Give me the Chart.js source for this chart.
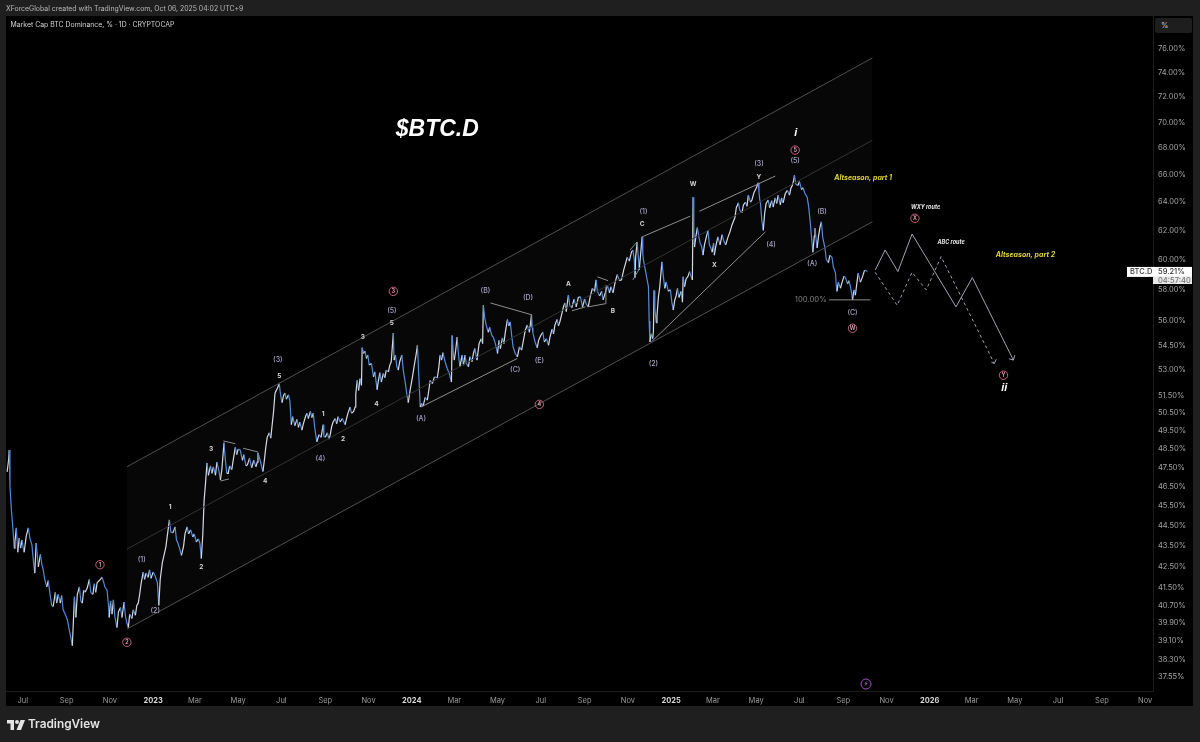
<!DOCTYPE html>
<html>
<head>
<meta charset="utf-8">
<title>BTC.D</title>
<script src="https://cdn.jsdelivr.net/npm/chart.js@4"></script>
<style>
  html, body { margin: 0; padding: 0; background: #1f1f1f; }
  #wrap { position: relative; width: 1200px; height: 742px; overflow: hidden; font-family: Inter, sans-serif; }
  canvas { position: absolute; left: 0; top: 0; }
  .txt { position: absolute; white-space: nowrap; }
  #created { left: 6px; top: 4px; font-size: 6.9px; color: #b9b9b9; }
  #symbol { left: 10.5px; top: 20px; font-size: 6.9px; color: #d2d2d2; }
  #unit { left: 1155px; top: 18px; width: 37px; height: 15px; line-height: 15px; box-sizing: border-box; padding-left: 6px; background: #1e1e1e; border-radius: 2px; font-size: 7.5px; color: #c8c8c8; }
  #brand { left: 28px; top: 717px; font-size: 11.8px; font-weight: 600; color: #e4e4e4; }
  #logo { position: absolute; left: 7px; top: 720px; }
</style>
</head>
<body>
<div id="wrap">
  <canvas id="chart" width="1200" height="742"></canvas>
  <div class="txt" id="created">XForceGlobal created with TradingView.com, Oct 06, 2025 04:02 UTC+9</div>
  <div class="txt" id="symbol">Market Cap BTC Dominance, % · 1D · CRYPTOCAP</div>
  <div class="txt" id="unit">%</div>
  <svg id="logo" width="18" height="10" viewBox="0 0 36 20"><path fill="#e4e4e4" d="M0 0h14v20H7V7H0z"/><circle fill="#e4e4e4" cx="20" cy="4" r="4"/><path fill="#e4e4e4" d="M27 0h9l-8 20h-9z"/></svg>
  <div class="txt" id="brand">TradingView</div>
</div>
<script>
// days are counted from 2023-01-01
const priceDays = [
  -206,-204,-203,-202,-200,-198,-196,-195,-193,-191,-189,-187,
  -185,-183,-182,-179,-176,-174,-171,-169,-167,-165,-163,-162,
  -159,-157,-155,-153,-150,-148,-145,-143,-141,-138,-136,-134,
  -131,-129,-127,-124,-121,-119,-117,-114,-111,-109,-107,-104,
  -102,-100,-98,-96,-93,-90,-88,-85,-83,-81,-79,-76,
  -72,-70,-68,-65,-63,-62,-60,-58,-56,-54,-51,-49,
  -46,-44,-41,-39,-37,-35,-33,-30,-28,-25,-23,-21,
  -19,-17,-14,-12,-10,-7,-5,-3,0,3,6,8,
  10,13,15,18,20,23,25,28,31,33,35,38,
  40,43,45,48,50,53,56,58,61,64,66,68,
  70,72,74,76,78,81,83,85,88,90,93,95,
  97,100,102,104,106,108,111,113,116,118,120,123,
  126,128,131,133,136,139,142,145,147,148,151,155,
  157,159,161,164,166,168,170,172,175,178,180,182,
  184,186,188,191,193,195,197,200,203,205,207,210,
  212,215,217,219,222,224,226,228,231,234,237,240,
  241,243,246,248,250,252,254,257,259,261,264,267,
  271,273,275,278,280,283,285,286,288,290,292,294,
  295,297,299,301,303,305,308,311,313,316,318,320,
  322,325,327,329,332,334,336,339,340,342,344,346,
  348,351,353,356,358,360,363,366,369,371,373,375,
  377,379,381,384,387,389,391,394,397,401,403,405,
  407,409,412,415,418,421,422,424,425,427,429,431,
  433,436,438,440,442,445,447,450,452,454,457,460,
  463,465,466,468,470,473,475,478,480,483,486,488,
  490,493,495,497,500,502,504,506,508,511,514,517,
  520,523,525,528,531,534,535,536,539,542,544,547,
  550,552,555,558,560,563,565,567,570,572,574,577,
  579,581,583,586,588,591,594,597,600,603,606,609,
  611,614,617,620,623,625,627,630,633,635,638,641,
  644,646,649,652,655,658,661,664,667,669,672,675,
  677,679,680,681,683,685,686,688,690,691,692,695,
  697,699,700,701,703,705,706,707,708,710,711,713,
  715,718,720,722,724,727,730,732,734,736,738,740,
  742,745,747,748,750,752,755,757,759,761,762,763,
  764,766,768,770,772,774,776,778,781,783,785,787,
  789,791,792,794,797,800,803,805,808,811,814,817,
  821,823,826,828,831,833,836,838,840,843,845,848,
  851,854,855,856,857,859,861,863,865,868,870,873,
  875,878,880,882,885,887,889,892,895,898,900,902,
  904,905,907,910,912,915,917,920,923,925,927,929,
  931,933,934,936,937,939,941,943,945,948,950,953,
  955,958,960,963,964,965,967,970,972,975,977,980,
  982,984,986,987,989,991,993,995,998,1001,1004,1008
];
const priceVals = [
  47.28,47.9,48.45,46.5,45.3,44.45,43.4,43.7,44.4,43.2,43.9,43.4,
  43.8,43.35,43.2,44.0,44.4,43.9,43.55,42.8,42.2,43.65,42.9,42.5,
  43.1,42.6,42.35,41.9,41.55,41.85,41.1,40.7,40.65,41.3,40.8,41.2,
  40.8,41.15,40.5,40.3,40.05,39.7,39.4,38.9,41.1,40.15,41.2,41.55,
  40.9,40.8,41.4,41.3,41.5,41.9,41.3,41.2,41.7,41.3,41.75,41.85,
  42.0,41.8,41.55,41.4,40.7,40.15,40.9,40.3,40.95,40.2,39.7,40.4,
  40.6,40.15,40.85,40.2,39.9,39.7,40.3,40.1,40.5,40.25,40.7,40.8,
  41.2,41.7,42.25,41.9,42.2,42.0,42.35,41.95,42.25,42.05,41.75,40.7,
  41.9,42.7,43.0,43.45,44.0,44.8,44.2,44.15,44.45,43.8,43.65,43.3,
  43.05,43.5,44.1,44.45,44.1,44.3,43.95,44.1,43.7,43.85,43.65,42.9,
  44.0,45.8,46.7,47.75,47.1,47.6,47.2,47.55,47.1,47.8,47.3,46.85,
  47.4,48.85,47.9,47.2,47.2,47.6,47.4,47.9,48.6,48.2,48.5,48.45,
  47.9,48.2,47.6,47.65,48.0,47.5,47.9,47.55,47.8,48.3,47.9,47.3,
  47.9,48.6,49.15,49.4,49.1,49.85,50.6,51.65,51.9,52.2,51.5,51.1,
  51.5,51.65,51.3,51.55,51.2,49.85,50.3,49.8,50.15,49.7,50.0,49.55,
  49.9,50.3,50.5,50.2,50.6,50.25,50.5,49.7,48.9,49.3,49.15,49.85,
  49.2,49.15,49.4,49.05,49.3,49.75,50.0,50.2,49.9,50.3,50.0,50.2,
  49.85,50.2,50.5,50.85,50.5,50.6,50.85,51.6,52.4,51.8,52.5,52.1,
  54.35,54.0,54.15,53.7,53.9,53.3,53.4,52.6,52.9,51.85,52.4,52.85,
  52.3,52.8,52.55,53.0,52.9,53.3,53.5,55.25,53.6,53.9,53.2,53.0,
  53.5,53.9,53.0,52.2,51.6,51.1,51.9,52.6,53.4,53.9,54.5,52.6,
  50.85,51.05,50.9,51.4,51.25,51.8,52.4,52.2,52.6,52.55,53.1,53.9,
  53.6,54.05,53.5,53.1,52.8,52.3,55.1,53.8,53.6,54.2,55.0,53.9,
  53.2,53.9,53.3,53.9,53.4,53.2,53.8,53.5,54.0,54.3,53.6,54.6,
  54.9,54.6,57.0,56.2,55.75,55.3,55.6,55.1,55.0,54.6,54.0,54.8,
  54.3,54.95,54.6,55.3,56.1,55.7,55.95,55.1,54.4,54.0,53.8,54.4,
  54.2,54.9,55.4,55.75,55.3,56.4,55.6,55.25,54.7,54.35,54.8,55.1,
  55.3,54.7,54.9,54.5,55.0,55.5,55.2,55.75,56.1,55.7,55.95,56.5,
  56.9,57.15,56.6,57.65,57.0,56.85,57.4,56.9,57.5,57.55,56.9,57.4,
  57.1,56.9,57.6,58.1,57.9,58.65,57.9,57.6,57.9,57.35,57.8,58.3,
  57.8,58.2,57.8,58.5,59.0,58.6,58.65,59.3,59.8,60.15,59.9,60.5,
  60.65,60.0,58.8,60.2,61.2,60.0,59.3,60.4,61.55,60.4,59.95,59.2,
  58.7,58.2,56.0,54.7,55.2,54.9,55.35,57.95,56.8,55.9,56.3,57.5,
  58.2,59.85,58.9,58.1,58.5,57.9,58.0,57.2,56.7,57.3,57.6,58.1,
  57.5,57.9,57.2,58.85,58.2,58.7,58.9,59.2,58.9,58.65,64.35,62.0,
  60.85,61.6,62.2,61.6,61.1,60.9,60.3,61.0,61.6,62.0,61.0,60.8,
  60.5,61.1,60.3,60.9,61.55,61.0,61.7,61.3,61.0,61.5,61.9,62.4,
  62.9,63.6,63.95,63.4,63.25,63.8,64.0,63.7,64.5,64.0,64.15,64.7,
  65.0,65.4,64.7,64.2,63.95,62.7,62.0,63.2,63.9,64.15,63.6,64.1,
  63.65,64.3,63.9,64.5,63.8,64.3,63.95,64.6,64.85,64.5,65.0,65.2,
  65.6,65.95,65.3,65.2,65.5,64.9,65.05,64.6,64.35,63.7,62.75,61.6,
  60.5,61.6,62.15,61.2,60.8,61.6,62.2,62.6,61.5,60.8,60.0,59.8,
  60.3,60.15,59.5,59.1,58.3,57.9,58.5,58.1,58.45,58.9,58.8,58.4,
  58.6,58.2,57.7,57.35,58.0,57.65,58.4,59.1,58.5,58.85,59.3,59.21
];

// channel rails: start day, end day, value at each end
const channelDays = [-37, 1015];
const channelUpper = [47.55, 75.24];
const channelMid = [43.35, 68.6];
const channelLower = [39.63, 62.6];

// hand drawn trend lines [day, value, day, value]
const trendLines = [
  [99,48.95,116,48.8],[127,48.55,148,48.35],[95,46.8,107,46.9],
  [378,50.85,514,53.7],[476,57.15,534,56.4],[534,56.4,534,55.6],
  [591,56.65,610,56.9],[614,56.9,638,57.1],[638,57.1,639,58.3],[627,58.85,642,58.6],
  [690,61.55,758,63.0],[673,60.65,683,61.2],[677,58.65,687,59.45],
  [771,63.35,878,65.9],[703,54.7,864,61.9],[954,57.35,1012,57.35]
];

// projected routes
const wxyDays = [1019,1033,1051,1071,1133,1156,1214];
const wxyVals = [59.3,60.65,59.2,61.75,56.9,58.8,53.6];
const abcDays = [1019,1050,1071,1091,1112,1187];
const abcVals = [59.15,57.0,59.15,58.0,60.2,53.4];
const wxyHeadDays = [1208,1214,1216];
const wxyHeadVals = [53.68,53.6,53.9];
const abcHeadDays = [1183,1187,1190];
const abcHeadVals = [53.47,53.4,53.65];

// wave labels [text, day, value]
const circleLabels = [['1',-75,42.6],['2',-37,39.05],['3',339,57.9],['4',545,51.0],['5',906,67.85],['W',987,55.55],['X',1075,62.85],['Y',1200,52.7]];
const parenLabels = [['(1)',-16,42.83],['(2)',3,40.45],['(3)',176,53.6],['(4)',236,48.0],['(5)',337,56.65],['(A)',378,50.2],['(B)',469,57.9],['(C)',511,53.0],['(D)',529,57.45],['(E)',545,53.55],['(1)',692,63.3],['(2)',706,53.4],['(3)',855,66.8],['(4)',872,61.0],['(5)',906,67.0],['(A)',930,59.7],['(B)',944,63.3],['(C)',987,56.5]];
const plainLabels = [['1',24,45.45],['2',68,42.5],['3',82,48.5],['4',158,46.8],['5',178,52.65],['1',240,50.45],['2',268,49.05],['3',296,55.0],['4',315,51.0],['5',337,55.9],['A',586,58.35],['B',649,56.65],['C',690,62.45],['W',762,65.3],['X',792,59.65],['Y',855,65.8]];
const noteLabels = [
  ['$BTC.D',401,69.4,'italic 700 23px "Liberation Sans"','#ffffff'],
  ['i',907,69.16,'italic 700 11px "Liberation Sans"','#ffffff'],
  ['ii',1201,51.95,'italic 700 11px "Liberation Sans"','#ffffff'],
  ['Altseason, part 1',1002,65.75,'italic 700 7px Inter','#e0d23c'],
  ['Altseason, part 2',1231,60.3,'italic 700 7px Inter','#e0d23c'],
  ['WXY route',1090,63.6,'italic 700 5.5px Inter','#e8e8e8'],
  ['ABC route',1126,61.2,'italic 700 5.5px Inter','#e8e8e8'],
  ['100.00%',928,57.35,'500 7.5px Inter','#6f6f6f']
];
const boltLabel = ['⚡',1006,37.26];

const yTicks = [37.55,38.3,39.1,39.9,40.7,41.5,42.5,43.5,44.5,45.5,46.5,47.5,48.5,49.5,50.5,51.5,53,54.5,56,58,60,62,64,66,68,70,72,74,76];
const xTickDays = [-184,-122,-61,0,59,120,181,243,304,365,425,486,547,609,670,731,790,851,912,974,1035,1096,1155,1216,1277,1339,1400];
const xTickNames = ['Jul','Sep','Nov','2023','Mar','May','Jul','Sep','Nov','2024','Mar','May','Jul','Sep','Nov','2025','Mar','May','Jul','Sep','Nov','2026','Mar','May','Jul','Sep','Nov'];

const UP = '#d5d9e0', DOWN = '#5288da', RAIL = '#4f4f4f', NOTE = '#8c8c8c', ROUTE = '#a0a4b0';

const pts = (xs, ys) => xs.map((x, i) => ({x, y: ys[i]}));
const straight = (data, color, extra) => Object.assign({data, borderColor: color, borderWidth: 1, pointRadius: 0, tension: 0, fill: false}, extra || {});

// frame and labels that are not datasets
const paintPlugin = {
  id: 'paint',
  beforeDraw(chart) {
    const c = chart.ctx;
    c.save();
    c.fillStyle = '#1f1f1f';
    c.fillRect(0, 0, 1200, 742);
    c.fillStyle = '#000000';
    c.fillRect(6, 16, 1187, 690);
    c.restore();
  },
  afterDatasetsDraw(chart) {
    const c = chart.ctx, sx = chart.scales.x, sy = chart.scales.y;
    const at = l => [sx.getPixelForValue(l[1]), sy.getPixelForValue(l[2])];
    c.save();
    c.textAlign = 'center';
    c.textBaseline = 'middle';
    parenLabels.forEach(l => {
      const [x, y] = at(l);
      c.font = '500 7px Inter';
      c.fillStyle = '#a7a2c6';
      c.fillText(l[0], x, y);
    });
    plainLabels.forEach(l => {
      const [x, y] = at(l);
      c.font = '700 6.5px Inter';
      c.fillStyle = '#d4d4d4';
      c.fillText(l[0], x, y);
    });
    circleLabels.forEach(l => {
      const [x, y] = at(l);
      c.beginPath();
      c.arc(x, y, 4.2, 0, Math.PI * 2);
      c.strokeStyle = '#c9607f';
      c.lineWidth = 1;
      c.stroke();
      c.font = '600 5.5px Inter';
      c.fillStyle = '#e6a9bc';
      c.fillText(l[0], x, y + 0.3);
    });
    noteLabels.forEach(l => {
      const [x, y] = at(l);
      c.font = l[3];
      c.fillStyle = l[4];
      c.fillText(l[0], x, y);
    });
    const [bx, by] = at(boltLabel);
    c.beginPath();
    c.arc(bx, by, 5, 0, Math.PI * 2);
    c.strokeStyle = '#a64fc4';
    c.stroke();
    c.font = '7px "DejaVu Sans"';
    c.fillStyle = '#c77ae0';
    c.fillText(boltLabel[0], bx, by);

    // last price tag
    const last = priceVals[priceVals.length - 1];
    const py = sy.getPixelForValue(last);
    c.fillStyle = '#ffffff';
    c.fillRect(1127, py - 4.5, 26, 10);
    c.fillRect(1153, py - 4.5, 39, 17);
    c.fillStyle = '#e8e8e8';
    c.fillRect(1153, py + 5, 39, 7.5);
    c.textAlign = 'left';
    c.font = '500 7.5px Inter';
    c.fillStyle = '#333333';
    c.fillText('BTC.D', 1130, py + 0.5);
    c.fillText(last.toFixed(2) + '%', 1158, py + 0.5);
    c.fillStyle = '#777777';
    c.fillText('04:57:40', 1158, py + 9);
    c.restore();
  }
};

new Chart(document.getElementById('chart'), {
  type: 'line',
  plugins: [paintPlugin],
  data: {
    datasets: [
      straight(pts(channelDays, channelUpper), RAIL, {fill: {target: 2}, backgroundColor: 'rgba(255,255,255,0.028)'}),
      straight(pts(channelDays, channelMid), '#2e2e2e'),
      straight(pts(channelDays, channelLower), RAIL),
      ...trendLines.map(t => straight([{x: t[0], y: t[1]}, {x: t[2], y: t[3]}], NOTE)),
      straight(pts(wxyDays, wxyVals), ROUTE),
      straight(pts(wxyHeadDays, wxyHeadVals), ROUTE),
      straight(pts(abcDays, abcVals), ROUTE, {borderDash: [3, 3]}),
      straight(pts(abcHeadDays, abcHeadVals), ROUTE),
      {
        data: pts(priceDays, priceVals),
        borderWidth: 1.2,
        pointRadius: 0,
        tension: 0,
        fill: false,
        borderColor: UP,
        segment: { borderColor: s => s.p1.parsed.y >= s.p0.parsed.y ? UP : DOWN }
      }
    ]
  },
  options: {
    responsive: false,
    animation: false,
    layout: { padding: { left: 6, right: 7, top: 16, bottom: 36 } },
    plugins: { legend: { display: false }, tooltip: { enabled: false }, title: { display: false } },
    scales: {
      x: {
        type: 'linear',
        min: -207.6,
        max: 1411,
        grid: { display: false, drawTicks: false },
        border: { color: '#1d1d1d' },
        afterBuildTicks: ax => { ax.ticks = xTickDays.map(value => ({value})); },
        afterFit: ax => { ax.height = 15; },
        ticks: {
          autoSkip: false,
          maxRotation: 0,
          padding: 5,
          color: c => (xTickNames[c.index] || '').length === 4 ? '#d8d8d8' : '#9a9a9a',
          font: c => ({ family: 'Inter', size: 7.5, weight: (xTickNames[c.index] || '').length === 4 ? '700' : '400' }),
          callback: (v, i) => xTickNames[i]
        }
      },
      y: {
        type: 'logarithmic',
        position: 'right',
        min: 36.97,
        max: 78.87,
        grid: { display: false, drawTicks: false },
        border: { color: '#1d1d1d' },
        afterBuildTicks: ax => { ax.ticks = yTicks.map(value => ({value})); },
        afterFit: ax => { ax.width = 40; },
        ticks: {
          autoSkip: false,
          padding: 5,
          color: '#a4a4a4',
          font: { family: 'Inter', size: 7.5 },
          callback: v => Number(v).toFixed(2) + '%'
        }
      }
    }
  }
});
</script>
</body>
</html>
